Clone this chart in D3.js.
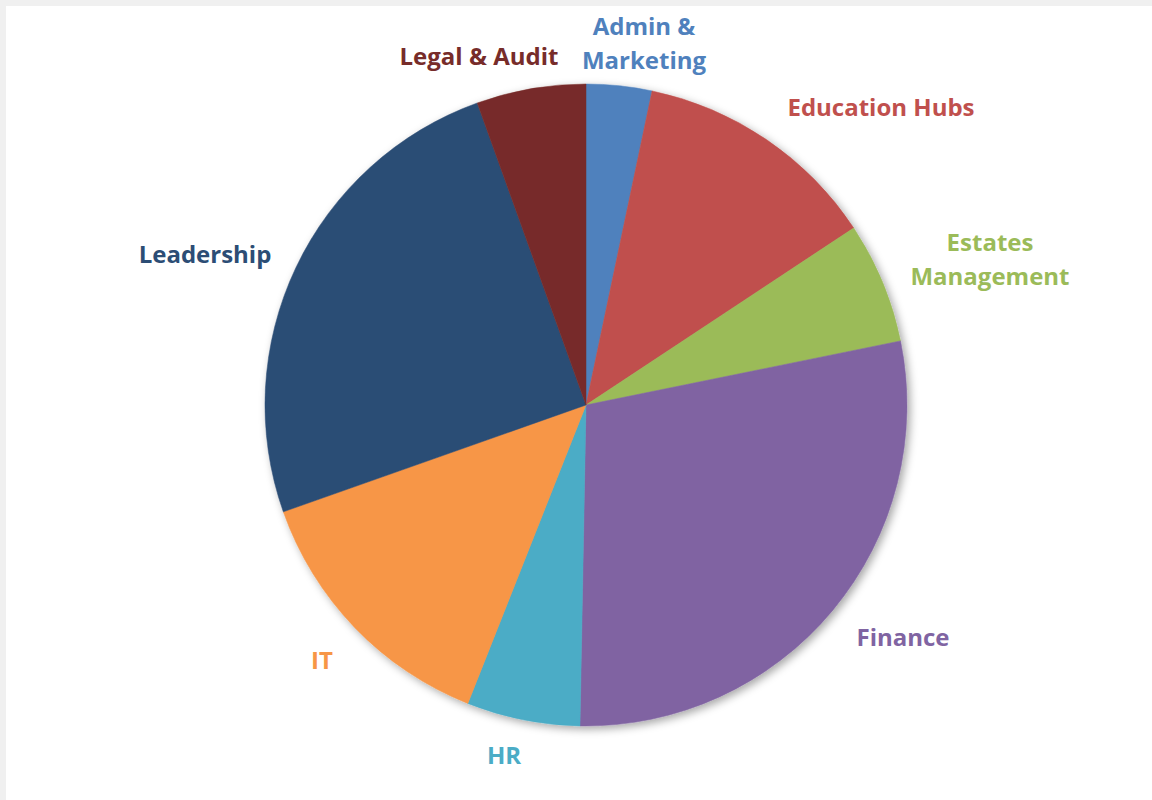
<!DOCTYPE html>
<html><head><meta charset="utf-8">
<script src="https://cdn.jsdelivr.net/npm/d3@7/dist/d3.min.js"></script>
<style>
html,body{margin:0;padding:0;background:#f0f0f0;}
svg{display:block;}
</style></head>
<body>
<svg id="chart" width="1152" height="800"></svg>
<script>
const categories = ["Admin & Marketing","Education Hubs","Estates Management","Finance","HR","IT","Leadership","Legal & Audit"];
const values = [3.3, 12.4, 6.1, 28.5, 5.7, 13.6, 24.9, 5.5];
const colors = ["#4F81BD","#C0504D","#9BBB59","#8064A2","#4BACC6","#F79646","#2C4D75","#772C2A"];
const labelLines = [["Admin &","Marketing"],["Education Hubs"],["Estates","Management"],["Finance"],["HR"],["IT"],["Leadership"],["Legal & Audit"]];
const labelPos = [[644,27],[881,108],[990,243],[903,638],[504,756],[322,661],[205,255],[479,57]];

const svg = d3.select("#chart");
svg.append("rect").attr("x",6).attr("y",6).attr("width",1146).attr("height",794).attr("fill","#ffffff");

const defs = svg.append("defs");
const f = defs.append("filter").attr("id","sh").attr("x","-10%").attr("y","-10%").attr("width","120%").attr("height","120%");
f.append("feDropShadow").attr("dx",3).attr("dy",3).attr("stdDeviation",4).attr("flood-color","#000").attr("flood-opacity",0.35);

const cx = 586, cy = 405, r = 321;
const pie = d3.pie().sort(null).value(d => d);
const arc = d3.arc().innerRadius(0).outerRadius(r);
const g = svg.append("g").attr("transform",`translate(${cx},${cy})`);
const gs = g.append("g").attr("filter","url(#sh)");
gs.selectAll("path").data(pie(values)).join("path")
  .attr("d",arc).attr("fill",(d,i)=>colors[i]).attr("stroke",(d,i)=>colors[i]).attr("stroke-width",0.5);

const fontSize = 24, lh = 34;
categories.forEach((c,i)=>{
  const lines = labelLines[i];
  const t = svg.append("text").attr("text-anchor","middle")
    .attr("font-family","'Open Sans', Lato, sans-serif").attr("font-weight","bold")
    .attr("font-size",fontSize).attr("fill",colors[i]);
  lines.forEach((ln,j)=>{
    t.append("tspan").attr("x",labelPos[i][0]).attr("y",labelPos[i][1]+j*lh).attr("dy","0.35em").text(ln);
  });
});
</script>
</body></html>
